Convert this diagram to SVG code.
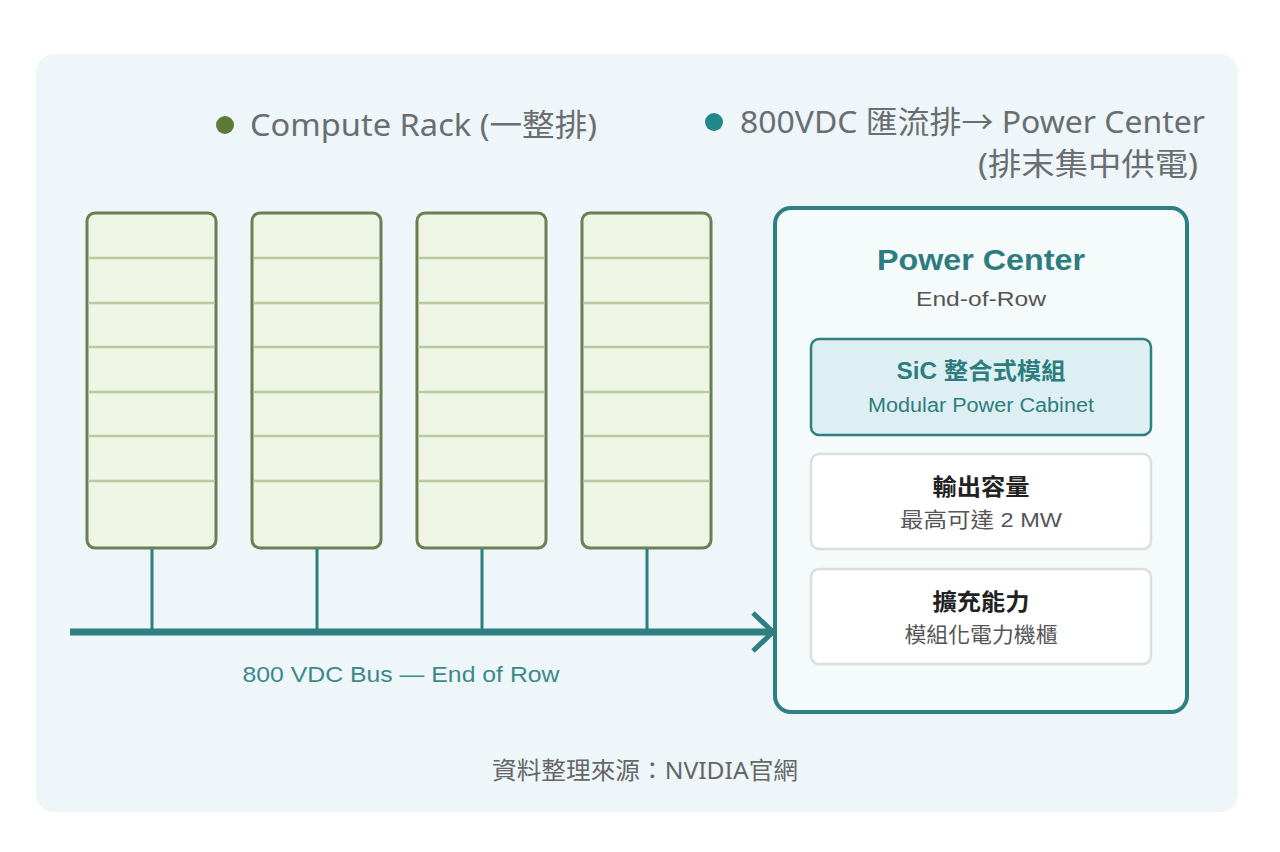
<svg xmlns="http://www.w3.org/2000/svg" width="1280" height="852" viewBox="0 0 1280 852">
<defs>
<style>
.rack{fill:#EEF5E4;stroke:#6B7F52;stroke-width:3}
.div{stroke:#B8CB9E;stroke-width:2.5}
.drop{stroke:#2E7F82;stroke-width:3;fill:none}
.t{font-family:"Noto Sans","Noto Sans CJK TC",sans-serif}
.h{font-family:"Liberation Sans","Noto Sans CJK TC",sans-serif}
.leg{font-size:31px;fill:#6A6E70}
.sub{fill:#fff;stroke:#D9DEDE;stroke-width:2.5}
.sh{font-size:23px;font-weight:bold;fill:#222}
.sd{font-size:21px;fill:#555}
</style>
</defs>
<rect width="1280" height="852" fill="#ffffff"/>
<rect x="36" y="54" width="1202" height="758" rx="18" fill="#EEF6FA"/>

<g id="legend">
<circle cx="225" cy="125" r="9" fill="#5D7A36"/>
<text class="t leg" x="250" y="136" textLength="347" lengthAdjust="spacingAndGlyphs">Compute Rack (一整排)</text>
<circle cx="714" cy="122" r="9" fill="#23878A"/>
<text class="t leg" x="740" y="133" textLength="465" lengthAdjust="spacingAndGlyphs">800VDC 匯流排→ Power Center</text>
<text class="t leg" x="978" y="175" textLength="220" lengthAdjust="spacingAndGlyphs">(排末集中供電)</text>
</g>

<g id="rack1">
<rect class="rack" x="87" y="213" width="129" height="335" rx="8"/>
<path class="div" d="M88.5 258H214.5M88.5 303H214.5M88.5 347H214.5M88.5 392H214.5M88.5 436H214.5M88.5 481H214.5"/>
</g>
<g id="rack2">
<rect class="rack" x="252" y="213" width="129" height="335" rx="8"/>
<path class="div" d="M253.5 258H379.5M253.5 303H379.5M253.5 347H379.5M253.5 392H379.5M253.5 436H379.5M253.5 481H379.5"/>
</g>
<g id="rack3">
<rect class="rack" x="417" y="213" width="129" height="335" rx="8"/>
<path class="div" d="M418.5 258H544.5M418.5 303H544.5M418.5 347H544.5M418.5 392H544.5M418.5 436H544.5M418.5 481H544.5"/>
</g>
<g id="rack4">
<rect class="rack" x="582" y="213" width="129" height="335" rx="8"/>
<path class="div" d="M583.5 258H709.5M583.5 303H709.5M583.5 347H709.5M583.5 392H709.5M583.5 436H709.5M583.5 481H709.5"/>
</g>

<g id="power-center">
<rect x="775" y="208" width="412" height="504" rx="16" fill="#F5FAFB" stroke="#2E7F82" stroke-width="4"/>
<text class="h" x="981" y="270" text-anchor="middle" font-size="30" font-weight="bold" fill="#2E7D7E" textLength="208" lengthAdjust="spacingAndGlyphs">Power Center</text>
<text class="h" x="981" y="306" text-anchor="middle" font-size="20" fill="#555" textLength="130" lengthAdjust="spacingAndGlyphs">End-of-Row</text>
</g>
<g id="sic-module">
<rect x="811" y="339" width="340" height="96" rx="8" fill="#DDEFF2" stroke="#2E7F82" stroke-width="2.5"/>
<text class="h" x="981" y="379" text-anchor="middle" font-size="23" font-weight="bold" fill="#2E7D7E" textLength="169" lengthAdjust="spacingAndGlyphs">SiC 整合式模組</text>
<text class="h" x="981" y="412" text-anchor="middle" font-size="20" fill="#2E7D7E" textLength="226" lengthAdjust="spacingAndGlyphs">Modular Power Cabinet</text>
</g>
<g id="output-capacity">
<rect class="sub" x="811" y="454" width="340" height="95" rx="8"/>
<text class="h sh" x="981" y="495" text-anchor="middle" textLength="97" lengthAdjust="spacingAndGlyphs">輸出容量</text>
<text class="h sd" x="981" y="527" text-anchor="middle" textLength="162" lengthAdjust="spacingAndGlyphs">最高可達 2 MW</text>
</g>
<g id="scalability">
<rect class="sub" x="811" y="569" width="340" height="95" rx="8"/>
<text class="h sh" x="981" y="610" text-anchor="middle" textLength="97" lengthAdjust="spacingAndGlyphs">擴充能力</text>
<text class="h sd" x="981" y="642" text-anchor="middle" textLength="153" lengthAdjust="spacingAndGlyphs">模組化電力機櫃</text>
</g>

<g id="connectors">
<path class="drop" d="M152 549V632M317 549V632M482 549V632M647 549V632"/>
<path d="M70 632H773" stroke="#2E7F82" stroke-width="7" fill="none"/>
<path d="M753 613L773 632L753 651" stroke="#2E7F82" stroke-width="5" fill="none"/>
</g>

<text class="h" x="401" y="682" text-anchor="middle" font-size="22" fill="#3A8A8C" textLength="317" lengthAdjust="spacingAndGlyphs">800 VDC Bus — End of Row</text>
<text class="t" x="645" y="779" text-anchor="middle" font-size="24" fill="#666" textLength="306" lengthAdjust="spacingAndGlyphs">資料整理來源：NVIDIA官網</text>
</svg>
